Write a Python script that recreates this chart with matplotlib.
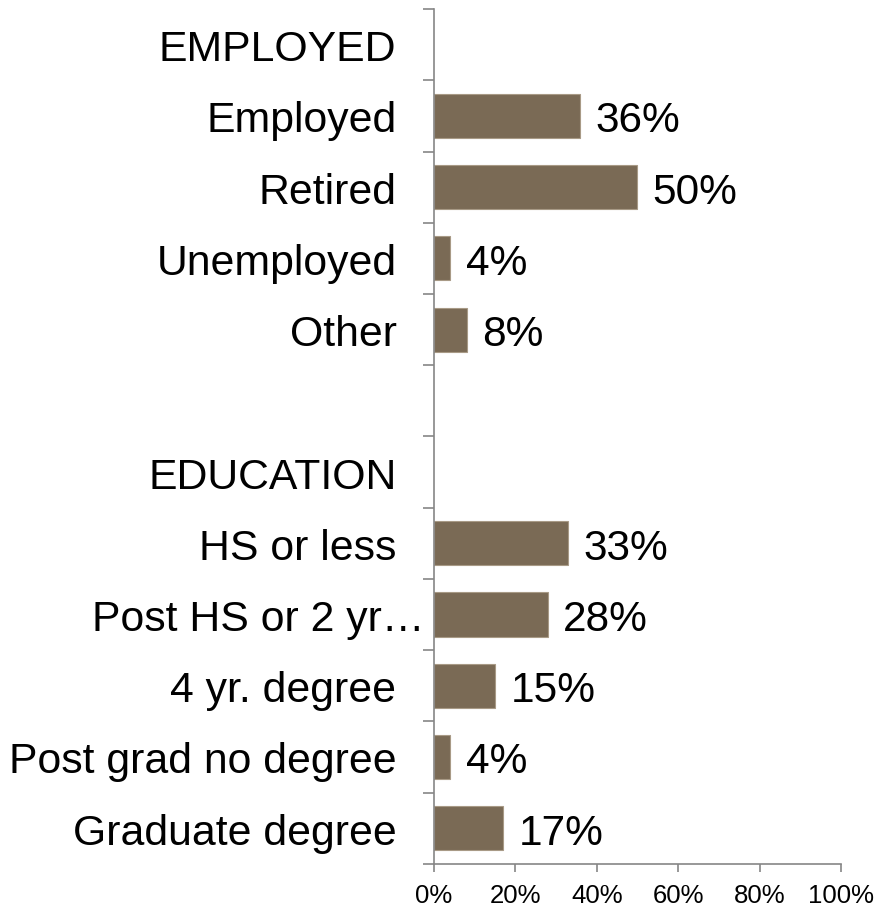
import numpy as np
import matplotlib.pyplot as plt

plt.rcParams['font.family'] = ['Liberation Sans', 'DejaVu Sans']

# Rows from top to bottom; None marks a section header or spacer row
labels = ['EMPLOYED', 'Employed', 'Retired', 'Unemployed', 'Other', '',
          'EDUCATION', 'HS or less', 'Post HS or 2 yr\u2026', '4 yr. degree',
          'Post grad no degree', 'Graduate degree']
values = [None, 36, 50, 4, 8, None,
          None, 33, 28, 15, 4, 17]
x_ticks = [0, 20, 40, 60, 80, 100]

bar_color = '#7a6a55'
axis_color = '#868686'

fig = plt.figure(figsize=(8.75, 9.2), dpi=100)
ax = fig.add_axes([0.496, 0.060, 0.465, 0.929])

rows = np.arange(len(labels))
for y, v in zip(rows, values):
    if v is None:
        continue
    ax.barh(y, v, height=0.62, color=bar_color, edgecolor='#a89a86', linewidth=0.8)
    ax.annotate(f'{v}%', xy=(v, y), xytext=(11, 0), textcoords='offset points',
                ha='left', va='center_baseline', fontsize=30.5)

# category labels sit left of the axis; the truncated one runs closer to it
for y, lab in zip(rows, labels):
    pad = 7 if lab.endswith('\u2026') else 27
    ax.annotate(lab, xy=(0, y), xytext=(-pad, 0), textcoords='offset points',
                ha='right', va='center_baseline', fontsize=30.8)

ax.set_xlim(0, 100)
ax.set_ylim(len(labels) - 0.5, -0.5)
ax.set_xticks(x_ticks)
ax.set_xticklabels([f'{t}%' for t in x_ticks], fontsize=18.5)
ax.set_yticks(list(rows - 0.5) + [len(labels) - 0.5])
ax.set_yticklabels([])

for side in ['top', 'right']:
    ax.spines[side].set_visible(False)
for side in ['left', 'bottom']:
    ax.spines[side].set_color(axis_color)
    ax.spines[side].set_linewidth(1.2)
ax.tick_params(axis='both', direction='out', color=axis_color, width=1.2)
ax.tick_params(axis='y', length=8)
ax.tick_params(axis='x', length=6, pad=8)

fig.savefig('out.png', dpi=100)
